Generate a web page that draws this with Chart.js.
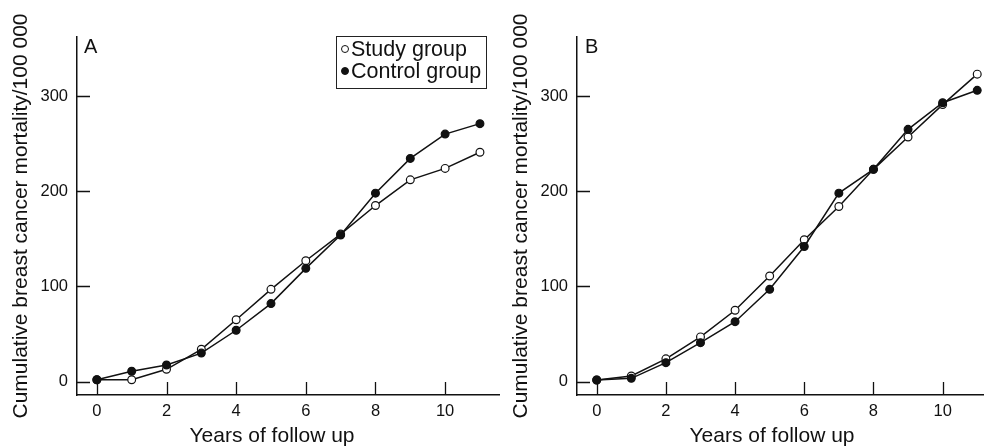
<!DOCTYPE html>
<html>
<head>
<meta charset="utf-8">
<script src="https://cdn.jsdelivr.net/npm/chart.js@4.4.1/dist/chart.umd.min.js"></script>
<style>
  html, body { margin: 0; padding: 0; background: #fff; }
  body { width: 989px; height: 447px; position: relative; overflow: hidden; font-family: "Liberation Sans", Arial, sans-serif; color: #111; }
  .pane { position: absolute; top: 0; height: 447px; }
  .xtitle { position: absolute; font-size: 21px; line-height: 25px; text-align: center; width: 300px; white-space: nowrap; }
  .plabel { position: absolute; font-size: 20px; line-height: 20px; }
  .legend { position: absolute; left: 336px; top: 36px; width: 149px; height: 49px; border: 1px solid #222; font-size: 21.5px; line-height: 21.7px; padding-top: 2px; box-sizing: content-box; }
  .legend div { white-space: nowrap; padding-left: 4px; }
  .dot { display: inline-block; width: 6px; height: 6px; border-radius: 50%; border: 1px solid #111; vertical-align: 3px; margin-right: 2px; box-sizing: content-box; }
</style>
</head>
<body>
<div class="pane" style="left:0;width:505px;"><canvas id="cA" width="505" height="447"></canvas></div>
<div class="pane" style="left:505px;width:484px;"><canvas id="cB" width="484" height="447"></canvas></div>
<div class="plabel" id="plA" style="left:84px;top:36px;"></div>
<div class="plabel" id="plB" style="left:585px;top:36px;"></div>
<div class="xtitle" id="xtA" style="left:122px;top:422px;"></div>
<div class="xtitle" id="xtB" style="left:622px;top:422px;"></div>
<div class="legend">
  <div><span class="dot" style="background:#fff"></span><span id="lg0"></span></div>
  <div><span class="dot" style="background:#111"></span><span id="lg1"></span></div>
</div>
<script>
// ---- data ----
const years = [0, 1, 2, 3, 4, 5, 6, 7, 8, 9, 10, 11];
const seriesNames = ["Study group", "Control group"];
const studyA   = [2, 2, 13, 34, 65, 97, 127, 155, 185, 212, 224, 241];
const controlA = [2, 11, 17.5, 30, 54, 82, 119, 154, 198, 234.5, 260, 271];
const studyB   = [1.7, 6, 24, 47, 75, 111, 149, 184, 223, 257, 291, 323];
const controlB = [1.7, 3.5, 20, 41, 63, 97, 142, 198, 223, 265, 293, 306];
const xTicks = [0, 2, 4, 6, 8, 10];
const yTicks = [0, 100, 200, 300];
const yTitle = "Cumulative breast cancer mortality/100 000";
const xTitle = "Years of follow up";
const panelLabels = ["A", "B"];

document.getElementById('lg0').textContent = seriesNames[0];
document.getElementById('lg1').textContent = seriesNames[1];
document.getElementById('xtA').textContent = xTitle;
document.getElementById('xtB').textContent = xTitle;
document.getElementById('plA').textContent = panelLabels[0];
document.getElementById('plB').textContent = panelLabels[1];

const INK = '#111';
const FONT = "'Liberation Sans', Arial, sans-serif";

const innerTicks = {
  id: 'innerTicks',
  beforeDatasetsDraw(chart) {
    const ctx = chart.ctx;
    const xs = chart.scales.x, ys = chart.scales.y;
    const L = 13;
    ctx.save();
    ctx.strokeStyle = INK;
    ctx.lineWidth = 1.3;
    ctx.beginPath();
    xTicks.forEach(v => {
      const px = Math.round(xs.getPixelForValue(v)) + 0.5;
      ctx.moveTo(px, ys.bottom);
      ctx.lineTo(px, ys.bottom - L);
    });
    yTicks.forEach(v => {
      const py = Math.round(ys.getPixelForValue(v)) + 0.5;
      ctx.moveTo(xs.left, py);
      ctx.lineTo(xs.left + L, py);
    });
    ctx.stroke();
    ctx.restore();
  }
};

function makeChart(id, study, control, xMax, yWidth, rightPad, titlePad) {
  const pt = (arr) => years.map((x, i) => ({ x: x, y: arr[i] }));
  return new Chart(document.getElementById(id), {
    type: 'line',
    data: {
      datasets: [
        { label: seriesNames[0], data: pt(study), order: 1,
          borderColor: INK, borderWidth: 1.5, tension: 0,
          pointRadius: 3.9, pointBackgroundColor: '#fff', pointBorderColor: INK, pointBorderWidth: 1.2 },
        { label: seriesNames[1], data: pt(control), order: 0,
          borderColor: INK, borderWidth: 1.5, tension: 0,
          pointRadius: 3.9, pointBackgroundColor: INK, pointBorderColor: INK, pointBorderWidth: 1.2 }
      ]
    },
    options: {
      responsive: false,
      animation: false,
      devicePixelRatio: 1,
      clip: false,
      layout: { padding: { top: 37, right: rightPad, left: 0, bottom: 0 } },
      plugins: { legend: { display: false }, tooltip: { enabled: false } },
      scales: {
        x: {
          type: 'linear', min: -0.57, max: xMax,
          afterBuildTicks: s => { s.ticks = xTicks.map(v => ({ value: v })); },
          afterFit: s => { s.height = 52; },
          grid: { display: true, drawOnChartArea: false, drawTicks: false },
          border: { display: true, color: INK, width: 1.5 },
          ticks: { color: INK, padding: 7, font: { family: FONT, size: 16.5 }, maxRotation: 0 }
        },
        y: {
          type: 'linear', min: -14, max: 362,
          afterBuildTicks: s => { s.ticks = yTicks.map(v => ({ value: v })); },
          afterFit: s => { s.width = yWidth; },
          grid: { display: true, drawOnChartArea: false, drawTicks: false },
          border: { display: true, color: INK, width: 1.5 },
          ticks: { color: INK, padding: 9, font: { family: FONT, size: 16.5 } },
          title: { display: true, text: yTitle, color: INK, padding: { top: titlePad, bottom: 0 }, font: { family: FONT, size: 21 } }
        }
      }
    },
    plugins: [innerTicks]
  });
}

makeChart('cA', studyA, controlA, 11.57, 77, 2, 9);
makeChart('cB', studyB, controlB, 11.19, 72, 0, 3.5);
</script>
</body>
</html>
